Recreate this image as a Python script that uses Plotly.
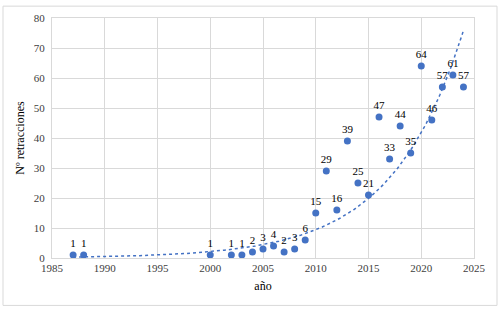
import numpy as np
import plotly.graph_objects as go

years = [1987, 1988, 2000, 2002, 2003, 2004, 2005, 2006, 2007, 2008, 2009, 2010, 2011,
         2012, 2013, 2014, 2015, 2016, 2017, 2018, 2019, 2020, 2021, 2022, 2023, 2024]
retracciones = [1, 1, 1, 1, 1, 2, 3, 4, 2, 3, 6, 15, 29,
                16, 39, 25, 21, 47, 33, 44, 35, 64, 46, 57, 61, 57]
x_ticks = [1985, 1990, 1995, 2000, 2005, 2010, 2015, 2020, 2025]
y_ticks = [0, 10, 20, 30, 40, 50, 60, 70, 80]

# Exponential trendline (least squares on ln y), as in the spreadsheet
b, ln_a = np.polyfit(np.array(years, float), np.log(np.array(retracciones, float)), 1)
tx = np.linspace(min(years), max(years), 200)
ty = np.exp(ln_a + b * tx)

serif = "Liberation Serif"
blue = "#4472C4"

fig = go.Figure()
fig.add_trace(go.Scatter(x=tx, y=ty, mode="lines",
                         line=dict(color=blue, width=1.5, dash="dot"),
                         hoverinfo="skip", showlegend=False))
fig.add_trace(go.Scatter(x=years, y=retracciones, mode="markers+text",
                         marker=dict(color=blue, size=7),
                         text=[str(v) for v in retracciones], textposition="top center",
                         textfont=dict(family=serif, size=11, color="#000000"),
                         showlegend=False))

L, R, T, B = 52, 26, 15, 51
W, H = 500, 309
pw, ph = W - L - R, H - T - B
fig.add_shape(type="rect", xref="paper", yref="paper",
              x0=(3 - L) / pw, x1=(497 - L) / pw,
              y0=(H - B - 306) / ph, y1=(H - B - 3) / ph,
              line=dict(color="#d9d9d9", width=1), fillcolor="rgba(0,0,0,0)", layer="below")

axis_common = dict(showgrid=True, gridcolor="#d9d9d9", gridwidth=1,
                   showline=True, linecolor="#d9d9d9", linewidth=1, mirror=True,
                   zeroline=False, ticks="",
                   tickfont=dict(family=serif, size=11, color="#404040"))
fig.update_xaxes(range=[1985, 2025], tickvals=x_ticks,
                 title=dict(text="año", font=dict(family=serif, size=12, color="#000000"), standoff=8),
                 **axis_common)
fig.update_yaxes(range=[0, 80], tickvals=y_ticks, ticklabelstandoff=4,
                 title=dict(text="Nº retracciones", font=dict(family=serif, size=12, color="#000000"), standoff=6),
                 **axis_common)

fig.update_layout(width=W, height=H, margin=dict(l=L, r=R, t=T, b=B),
                  paper_bgcolor="white", plot_bgcolor="white",
                  font=dict(family=serif))
fig.write_html("out.html")
